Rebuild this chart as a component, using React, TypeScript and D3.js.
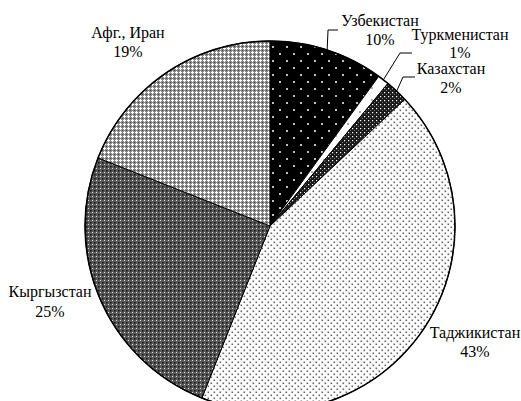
import React, { useEffect, useRef } from 'react';
import * as d3 from 'd3';

const WIDTH = 521;
const HEIGHT = 401;
const CX = 270;
const CY = 226;
const R = 185;

// clockwise from 12 o'clock
const countries = ['Узбекистан', 'Туркменистан', 'Казахстан', 'Таджикистан', 'Кыргызстан', 'Афг., Иран'];
const shares = [10, 1, 2, 43, 25, 19];
const patternIds = ['p-uzb', 'p-tkm', 'p-kaz', 'p-tjk', 'p-kgz', 'p-afg'];

// label layout: text centre x, first baseline y, line gap, optional leader elbow
const labelX = [380, 460, 451, 475, 50, 128];
const labelY = [26, 40, 74, 338, 297, 38];
const labelGap = [19, 18, 19, 19, 20, 19];
const elbows: ([number, number, number] | null)[] = [
    [328, 30, 338],
    [400, 53, 412],
    [403, 77, 415],
    null,
    null,
    null,
];

const App: React.FC = () => {
    const gRef = useRef<SVGGElement>(null);

    useEffect(() => {
        if (!gRef.current) return;
        const root = d3.select(gRef.current);
        root.selectAll("*").remove();

        const defs = root.append("defs");

        // Узбекистан: black, sparse white dots
        const uzb = defs.append("pattern").attr("id", "p-uzb").attr("patternUnits", "userSpaceOnUse")
            .attr("width", 14).attr("height", 14);
        uzb.append("rect").attr("width", 14).attr("height", 14).attr("fill", "#000");
        uzb.append("circle").attr("cx", 3).attr("cy", 3).attr("r", 1).attr("fill", "#fff");
        uzb.append("circle").attr("cx", 10).attr("cy", 10).attr("r", 1).attr("fill", "#fff");

        // Туркменистан: white, few dots
        const tkm = defs.append("pattern").attr("id", "p-tkm").attr("patternUnits", "userSpaceOnUse")
            .attr("width", 12).attr("height", 12);
        tkm.append("rect").attr("width", 12).attr("height", 12).attr("fill", "#fff");
        tkm.append("circle").attr("cx", 6).attr("cy", 6).attr("r", 0.8).attr("fill", "#444");

        // Казахстан: black, dense white dots
        const kaz = defs.append("pattern").attr("id", "p-kaz").attr("patternUnits", "userSpaceOnUse")
            .attr("width", 4).attr("height", 4);
        kaz.append("rect").attr("width", 4).attr("height", 4).attr("fill", "#1a1a1a");
        kaz.append("rect").attr("x", 2).attr("y", 2).attr("width", 1.2).attr("height", 1.2).attr("fill", "#fff");
        kaz.append("rect").attr("x", 0).attr("y", 0).attr("width", 1).attr("height", 1).attr("fill", "#777");

        // Таджикистан: white, grey staggered dots
        const tjk = defs.append("pattern").attr("id", "p-tjk").attr("patternUnits", "userSpaceOnUse")
            .attr("width", 6).attr("height", 6);
        tjk.append("rect").attr("width", 6).attr("height", 6).attr("fill", "#fff");
        tjk.append("rect").attr("x", 0.5).attr("y", 0.5).attr("width", 1.6).attr("height", 1.6).attr("fill", "#666");
        tjk.append("rect").attr("x", 3.5).attr("y", 3.5).attr("width", 1.6).attr("height", 1.6).attr("fill", "#666");

        // Кыргызстан: dark grid with light crosses
        const kgz = defs.append("pattern").attr("id", "p-kgz").attr("patternUnits", "userSpaceOnUse")
            .attr("width", 4).attr("height", 4);
        kgz.append("rect").attr("width", 4).attr("height", 4).attr("fill", "#5a5a5a");
        kgz.append("rect").attr("x", 0).attr("y", 0).attr("width", 1.5).attr("height", 1.5).attr("fill", "#111");
        kgz.append("rect").attr("x", 2).attr("y", 2).attr("width", 1).attr("height", 1).attr("fill", "#ddd");

        // Афг., Иран: mid grey with white crosses
        const afg = defs.append("pattern").attr("id", "p-afg").attr("patternUnits", "userSpaceOnUse")
            .attr("width", 4).attr("height", 4);
        afg.append("rect").attr("width", 4).attr("height", 4).attr("fill", "#8a8a8a");
        afg.append("rect").attr("x", 0).attr("y", 0).attr("width", 1).attr("height", 1).attr("fill", "#444");
        afg.append("rect").attr("x", 2).attr("y", 1).attr("width", 1).attr("height", 3).attr("fill", "#fff");
        afg.append("rect").attr("x", 1).attr("y", 2).attr("width", 3).attr("height", 1).attr("fill", "#fff");

        const g = root.append("g").attr("transform", `translate(${CX},${CY})`);

        const pie = d3.pie<number>().sort(null).value(d => d)(shares);
        const arc = d3.arc<d3.PieArcDatum<number>>().innerRadius(0).outerRadius(R);

        g.selectAll("path.slice").data(pie).enter()
            .append("path")
            .attr("d", arc)
            .attr("fill", (_, i) => `url(#${patternIds[i]})`)
            .attr("stroke", "#000")
            .attr("stroke-width", 1)
            .attr("stroke-linejoin", "round");

        g.append("circle").attr("r", R).attr("fill", "none").attr("stroke", "#000").attr("stroke-width", 1.5);

        // leaders
        pie.forEach((d, i) => {
            const e = elbows[i];
            if (!e) return;
            const a = (d.startAngle + d.endAngle) / 2;
            const sx = CX + R * Math.sin(a);
            const sy = CY - R * Math.cos(a);
            root.append("polyline")
                .attr("points", `${sx},${sy} ${e[0]},${e[1]} ${e[2]},${e[1]}`)
                .attr("fill", "none")
                .attr("stroke", "#000")
                .attr("stroke-width", 1);
        });
    }, []);

    return (
        <svg width={WIDTH} height={HEIGHT}
            style={{ position: 'fixed', left: 0, top: 0, background: '#fff' }}>
            <g ref={gRef} />
            {countries.map((c, i) => (
                <text key={c} textAnchor="middle" fontFamily="Liberation Serif" fontSize={16} fill="#000">
                    <tspan x={labelX[i]} y={labelY[i]}>{c}</tspan>
                    <tspan x={labelX[i]} y={labelY[i] + labelGap[i]}>{`${shares[i]}%`}</tspan>
                </text>
            ))}
        </svg>
    );
};

export default App;
